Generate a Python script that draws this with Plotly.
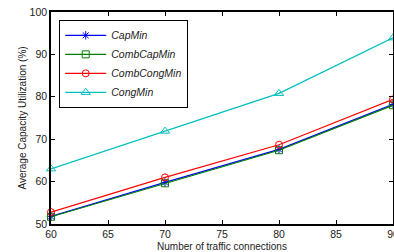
import plotly.graph_objects as go

x_vals = [60, 70, 80, 90]
cap_min = [51.8, 59.8, 67.6, 78.2]
comb_cap_min = [51.7, 59.6, 67.4, 78.0]
comb_cong_min = [52.8, 61.0, 68.7, 79.4]
cong_min = [63.0, 71.9, 80.8, 93.9]

series = [
    ("CapMin", cap_min, "#0000ff", "asterisk-open", 7),
    ("CombCapMin", comb_cap_min, "#008000", "square-open", 7),
    ("CombCongMin", comb_cong_min, "#ff0000", "circle-open", 7),
    ("CongMin", cong_min, "#00bfbf", "triangle-up-open", 8),
]

fig = go.Figure()
for name, ys, color, sym, size in series:
    fig.add_trace(go.Scatter(
        x=x_vals, y=ys, name=name, mode="lines+markers",
        line=dict(color=color, width=1.2),
        marker=dict(symbol=sym, size=size, color=color, line=dict(width=1, color=color)),
        cliponaxis=False,
    ))

fig.update_layout(
    width=394, height=252,
    margin=dict(l=51, r=1, t=12, b=28, autoexpand=False),
    plot_bgcolor="white", paper_bgcolor="white",
    font=dict(family="Liberation Sans, Arial, sans-serif", size=10.5, color="#222"),
    showlegend=True,
    legend=dict(
        x=0.024, y=0.963, xanchor="left", yanchor="top",
        bordercolor="black", borderwidth=1, bgcolor="white",
        font=dict(size=10.5, style="italic"),
        tracegroupgap=0, itemwidth=41,
    ),
)
fig.update_xaxes(
    range=[60, 90], tickvals=[60, 65, 70, 75, 80, 85, 90],
    ticks="inside", ticklen=4, tickcolor="black", tickwidth=1,
    showline=True, linecolor="black", linewidth=1.5, mirror="ticks",
    showgrid=False, zeroline=False, ticklabeloverflow="allow", automargin=False,
    title=dict(text="Number of traffic connections", font=dict(size=10), standoff=4),
)
fig.update_yaxes(
    range=[50, 100], tickvals=[50, 60, 70, 80, 90, 100],
    ticks="inside", ticklen=4, tickcolor="black", tickwidth=1,
    showline=True, linecolor="black", linewidth=1.5, mirror="ticks",
    showgrid=False, zeroline=False, automargin=False,
    title=dict(text="Average Capacity Utilization (%)", font=dict(size=10), standoff=1),
)

fig.write_html(
    "out.html",
    config={"displayModeBar": False},
    post_script="document.body.style.margin='0';document.body.style.overflow='hidden';",
)
